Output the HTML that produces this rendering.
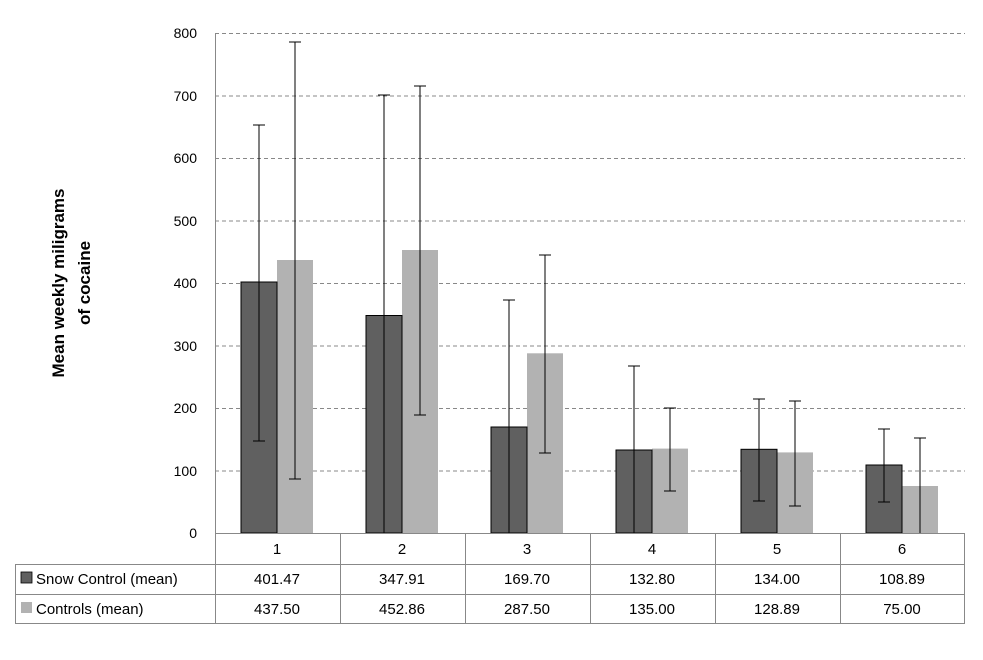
<!DOCTYPE html>
<html><head><style>
body{margin:0;background:#fff;}
svg text{font-family:"Liberation Sans",Arial,sans-serif;}
</style></head><body>
<svg width="983" height="655" xmlns="http://www.w3.org/2000/svg">
<rect width="983" height="655" fill="#fff"/>
<g stroke="#888" stroke-dasharray="4,3" stroke-width="1">
<line x1="215" y1="33.5" x2="965" y2="33.5"/>
<line x1="215" y1="96" x2="965" y2="96"/>
<line x1="215" y1="158.5" x2="965" y2="158.5"/>
<line x1="215" y1="221" x2="965" y2="221"/>
<line x1="215" y1="283.5" x2="965" y2="283.5"/>
<line x1="215" y1="346" x2="965" y2="346"/>
<line x1="215" y1="408.5" x2="965" y2="408.5"/>
<line x1="215" y1="471" x2="965" y2="471"/>
</g>
<line x1="215.5" y1="33" x2="215.5" y2="533" stroke="#888"/>
<g font-size="14" fill="#000" text-anchor="end">
<text x="197" y="38">800</text><text x="197" y="101">700</text><text x="197" y="163">600</text>
<text x="197" y="226">500</text><text x="197" y="288">400</text><text x="197" y="351">300</text>
<text x="197" y="413">200</text><text x="197" y="476">100</text><text x="197" y="538">0</text>
</g>
<g font-size="17" font-weight="bold" text-anchor="middle">
<text transform="translate(64,283) rotate(-90)">Mean weekly miligrams</text>
<text transform="translate(90,283) rotate(-90)">of cocaine</text>
</g>
<g fill="#b2b2b2">
<rect x="277" y="260" width="36" height="273"/>
<rect x="402" y="250" width="36" height="283"/>
<rect x="527" y="353.3" width="36" height="179.7"/>
<rect x="652" y="448.6" width="36" height="84.4"/>
<rect x="777" y="452.4" width="36" height="80.6"/>
<rect x="902" y="486" width="36" height="47"/>
</g>
<g stroke="#000" stroke-width="1" fill="#606060">
<rect x="241" y="282" width="36" height="251"/>
<rect x="366" y="315.5" width="36" height="217.5"/>
<rect x="491" y="427" width="36" height="106"/>
<rect x="616" y="450" width="36" height="83"/>
<rect x="741" y="449.3" width="36" height="83.7"/>
<rect x="866" y="465" width="36" height="68"/>
</g>
<g stroke="#000" stroke-width="1" fill="none">
<path d="M259 125V441M253 125H265M253 441H265"/>
<path d="M295 42V479M289 42H301M289 479H301"/>
<path d="M384 95V533M378 95H390"/>
<path d="M420 86V415M414 86H426M414 415H426"/>
<path d="M509 300V533M503 300H515"/>
<path d="M545 255V453M539 255H551M539 453H551"/>
<path d="M634 366V533M628 366H640"/>
<path d="M670 408V491M664 408H676M664 491H676"/>
<path d="M759 399V501M753 399H765M753 501H765"/>
<path d="M795 401V506M789 401H801M789 506H801"/>
<path d="M884 429V502M878 429H890M878 502H890"/>
<path d="M920 438V533M914 438H926"/>
</g>
<g stroke="#888" stroke-width="1" fill="none">
<line x1="215" y1="533.5" x2="965" y2="533.5"/>
<line x1="15" y1="564.5" x2="965" y2="564.5"/>
<line x1="15" y1="594.5" x2="965" y2="594.5"/>
<line x1="15" y1="623.5" x2="965" y2="623.5"/>
<line x1="15.5" y1="564" x2="15.5" y2="624"/>
<line x1="215.5" y1="533" x2="215.5" y2="624"/>
<line x1="340.5" y1="533" x2="340.5" y2="624"/>
<line x1="465.5" y1="533" x2="465.5" y2="624"/>
<line x1="590.5" y1="533" x2="590.5" y2="624"/>
<line x1="715.5" y1="533" x2="715.5" y2="624"/>
<line x1="840.5" y1="533" x2="840.5" y2="624"/>
<line x1="964.5" y1="533" x2="964.5" y2="624"/>
</g>
<rect x="21" y="572" width="11" height="11" fill="#606060" stroke="#000" stroke-width="0.8"/>
<rect x="21" y="602" width="11" height="11" fill="#b2b2b2"/>
<g font-size="15" fill="#000">
<text x="36" y="584">Snow Control (mean)</text>
<text x="36" y="614">Controls (mean)</text>
</g>
<g font-size="15" text-anchor="middle">
<text x="277" y="554">1</text><text x="402" y="554">2</text><text x="527" y="554">3</text>
<text x="652" y="554">4</text><text x="777" y="554">5</text><text x="902" y="554">6</text>
<text x="277" y="584">401.47</text><text x="402" y="584">347.91</text><text x="527" y="584">169.70</text>
<text x="652" y="584">132.80</text><text x="777" y="584">134.00</text><text x="902" y="584">108.89</text>
<text x="277" y="614">437.50</text><text x="402" y="614">452.86</text><text x="527" y="614">287.50</text>
<text x="652" y="614">135.00</text><text x="777" y="614">128.89</text><text x="902" y="614">75.00</text>
</g>
</svg>
</body></html>
